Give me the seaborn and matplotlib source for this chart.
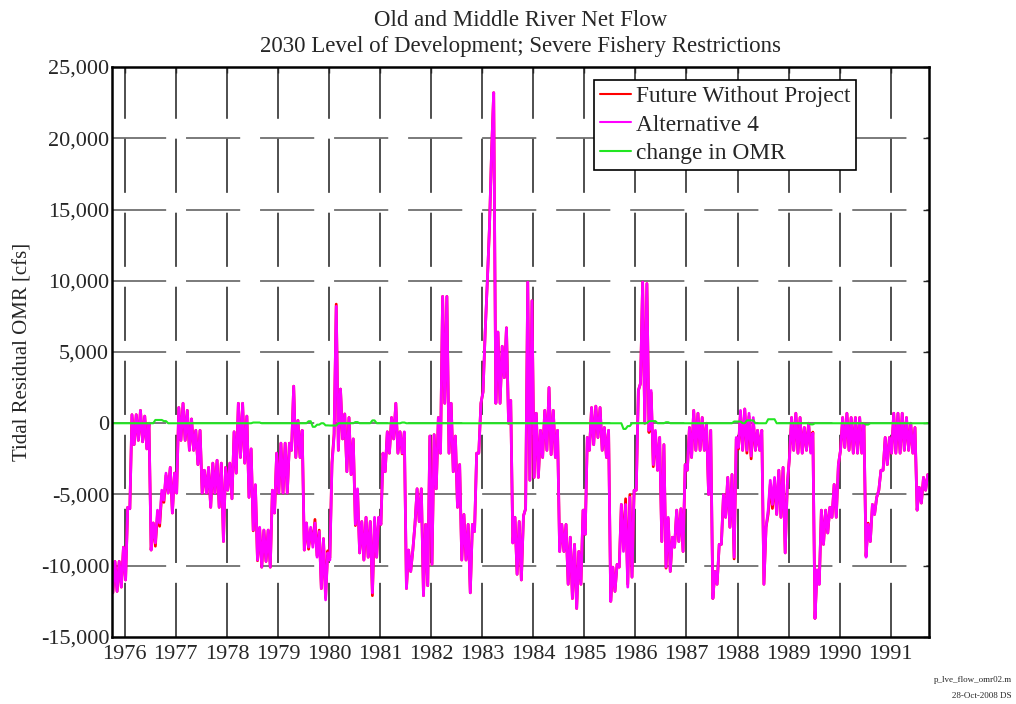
import numpy as np
import pandas as pd
import seaborn as sns
import matplotlib
matplotlib.use("Agg")
import matplotlib.pyplot as plt
from matplotlib.ticker import FuncFormatter, MultipleLocator

# Monthly envelope of the tidally filtered OMR flow (cfs).
# One row per water year, Oct .. Sep, from WY1976 to WY1991.
alt4_low = [
    -11900, -11800, -11500, -11000, -6000, -1500, -1200, -1300, -1800, -8900, -8400, -7000,   # 1976
    -5400, -4900, -6300, -4900, -1200, -1200, -1900, -1900, -2900, -4900, -4900, -5900,        # 1977
    -4900, -5900, -8300, -4700, -5300, -3500, -2400, -2800, -5200, -7500, -9600, -10100,       # 1978
    -9700, -10100, -6300, -4900, -4900, -4900, -1900, -2400, -2400, -8900, -8700, -8700,       # 1979
    -9400, -11600, -12400, -9600, -900, -1900, -1100, -3400, -3600, -7100, -9100, -9600,       # 1980
    -9400, -11900, -9400, -7100, -3400, -2100, -1100, -2100, -2100, -11600, -10400, -7100,     # 1981
    -6900, -12100, -11400, -9900, -4600, -2100, 1400, -2100, -3400, -5900, -9600, -9600,       # 1982
    -11900, -7600, -2100, 2200, 9900, 19000, 1400, 1400, 3200, 0, -8400, -10600,              # 1983
    -11000, -6000, -4000, -3800, -3800, -2400, -1900, -2200, -2400, -9000, -9000, -11300,      # 1984
    -12300, -13000, -11300, -7800, -1900, -1500, -1000, -1900, -2400, -12500, -11800, -10100,  # 1985
    -9000, -11500, -10800, -4700, 2800, 0, -500, -2900, -3300, -8300, -10100, -10400,          # 1986
    -8700, -8300, -9000, -3300, -2400, -1900, -1900, -1900, -5000, -12300, -11300, -8500,      # 1987
    -6600, -7300, -9400, -1700, -1900, -1900, -2300, -1900, -1900, -11300, -6100, -5700,       # 1988
    -6400, -6600, -9100, -2400, -1900, -2100, -2100, -1900, -2100, -13700, -11300, -8500,      # 1989
    -7700, -6600, -6600, -1900, -1700, -1900, -2100, -2100, -2100, -9400, -8300, -6400,        # 1990
    -4700, -3300, -2900, -2100, -2100, -2100, -1900, -1900, -2100, -6100, -5600, -4700,        # 1991
]
alt4_high = [
    -9700, -9700, -8700, -5900, 600, 600, 900, 500, 0, -7000, -6100, -4700,                   # 1976
    -3500, -3100, -3500, 1100, 1400, 900, 300, -500, -500, -3300, -3100, -2800,                # 1977
    -2600, -2800, -3100, -2800, -600, 1400, 1400, 500, -1800, -4300, -7300, -7500,             # 1978
    -7500, -4700, -2100, -1400, -1400, -1400, 2600, 200, -500, -7000, -7300, -7000,            # 1979
    -7600, -8100, -9100, -2900, 8200, 2400, 650, 400, -1100, -4600, -6900, -6600,              # 1980
    -6900, -6600, -6600, -2100, -600, 400, 1400, -600, -600, -8900, -8900, -4600,              # 1981
    -4600, -7100, -900, -800, 400, 8900, 8900, 1400, -900, -2900, -6400, -7100,                # 1982
    -7100, -2100, 1400, 6400, 13700, 23200, 6400, 5400, 6700, 1600, -6600, -6900,              # 1983
    -6500, 9900, 8600, 700, -500, 900, 2500, 900, -500, -7100, -7100, -8000,                   # 1984
    -8500, -9000, -6100, -1000, 1100, 1200, 1100, -300, -500, -10100, -9900, -5700,            # 1985
    -5700, -5200, -4700, 2300, 9900, 9800, 2300, -500, -1000, -1500, -6600, -8000,             # 1986
    -6100, -6000, -2900, -300, 900, 700, 400, 0, -500, -10400, -8500, -5000,                   # 1987
    -3800, -3600, -1000, 900, 1000, 700, 400, -500, -500, -7300, -4000, -3800,                 # 1988
    -3300, -3100, -4300, 400, 700, 400, -300, 0, -700, -10300, -6100, -6100,                   # 1989
    -5900, -4300, -2900, 400, 700, 400, 400, 400, 0, -7100, -5700, -5200,                      # 1990
    -3300, -1000, -1000, 700, 700, 700, 400, 0, -300, -4500, -3800, -3600,                     # 1991
]
# Alternative 4 minus Future Without Project (cfs), monthly
omr_change = [
    0, 0, 0, 0, 0, 0, 0, 0, 0, 0, 230, 230,          # 1976
    150, 0, 0, 0, 0, 0, 0, 0, 0, 0, 0, 0,            # 1977
    0, 0, 0, 0, 0, 0, 0, 0, 0, 50, 50, 0,            # 1978
    0, 0, 0, 0, 0, 0, 0, 0, 0, 0, 140, -250,         # 1979
    -100, 0, -150, -160, -160, 0, 0, 0, 0, 80, 0, 0,  # 1980
    0, 200, 0, 0, 0, 0, 0, 0, 50, 0, 0, 0,           # 1981
    0, 0, 0, 0, 0, 0, 0, 0, 0, 0, 0, 0,              # 1982
    0, 0, 0, 0, 0, 0, 0, 0, 0, 0, 0, 0,              # 1983
    0, 0, 0, 0, 0, 0, 0, 0, 0, 0, 0, 0,              # 1984
    0, 0, 0, 0, 0, 0, 0, 0, 0, 0, 0, 0,              # 1985
    -400, -200, 0, 0, 0, 0, 150, 150, 0, 0, 70, 0,   # 1986
    0, 0, 0, 0, 0, 0, 0, 0, 0, 0, 0, 0,              # 1987
    0, 0, 120, 120, 0, 200, 200, 0, 0, 0, 280, 280,  # 1988
    0, 0, 0, 0, 0, 0, 0, 0, -80, 0, 0, 0,            # 1989
    0, 0, 0, 0, 0, 0, 0, 0, 0, -90, 0, 0,            # 1990
    0, 0, 0, 0, 0, 0, 0, 0, 0, 0, 0, 0,              # 1991
]
year_ticks = list(range(1976, 1992))

# Build the time axis (decimal years), low and high point inside each month
t0 = 1975.75 + np.arange(len(alt4_low)) / 12
x = np.column_stack([t0 + 0.2 / 12, t0 + 0.7 / 12]).ravel()
alt4 = np.column_stack([alt4_low, alt4_high]).ravel()
chg = np.repeat(omr_change, 2)
df = pd.DataFrame({
    "year": x,
    "Future Without Project": alt4 - chg,
    "Alternative 4": alt4,
    "change in OMR": chg,
})

sns.set_style("white")
plt.rcParams["font.family"] = ["Liberation Serif", "DejaVu Serif"]

fig = plt.figure(figsize=(10.16, 7.04), dpi=100)
ax = fig.add_axes([0.1102, 0.0952, 0.8042, 0.8096])

colors = {"Future Without Project": "#ff0000", "Alternative 4": "#ff00ff", "change in OMR": "#22e622"}
widths = {"Future Without Project": 2.0, "Alternative 4": 2.0, "change in OMR": 1.5}
for name in ["Future Without Project", "Alternative 4", "change in OMR"]:
    sns.lineplot(data=df, x="year", y=name, color=colors[name], lw=widths[name],
                 estimator=None, sort=False, ax=ax, label=name)

ax.set_xlim(1975.75, 1991.75)
ax.set_ylim(-15000, 25000)
ax.set_xticks(year_ticks)
ax.set_xticklabels([str(y) for y in year_ticks])
ax.yaxis.set_major_locator(MultipleLocator(5000))
ax.yaxis.set_major_formatter(FuncFormatter(lambda v, p: f"{v:,.0f}"))
ax.tick_params(axis="both", labelsize=16, direction="in", length=4, width=1,
               top=True, right=True, pad=2)
ax.tick_params(axis="x", pad=6)

# dashed grid
ax.grid(False)
for yv in range(-10000, 25000, 5000):
    ax.axhline(yv, color="#707070", lw=1.3, ls=(0, (30, 11)), zorder=0)
for xv in year_ticks:
    ax.axvline(xv, color="#404040", lw=1.3, ls=(0, (30, 11)), zorder=0)

for s in ax.spines.values():
    s.set_color("black")
    s.set_linewidth(1.8)

ax.set_xlabel("")
ax.set_ylabel("Tidal Residual OMR [cfs]", fontsize=15, labelpad=6)
ax.set_title("Old and Middle River Net Flow\n2030 Level of Development; Severe Fishery Restrictions",
             fontsize=16.5, pad=11, linespacing=1.3)

leg = ax.legend(loc="upper left", bbox_to_anchor=(0.59, 0.977), fontsize=16.8, frameon=True,
                fancybox=False, framealpha=1, edgecolor="black", handlelength=1.35,
                handletextpad=0.2, borderpad=0.25, labelspacing=0.3, borderaxespad=0)
leg.get_frame().set_linewidth(1.2)
for line in leg.get_lines():
    line.set_linewidth(1.5)

fig.text(0.996, 0.034, "p_lve_flow_omr02.m", ha="right", va="center", fontsize=6.5)
fig.text(0.996, 0.012, "28-Oct-2008 DS", ha="right", va="center", fontsize=6.5)

fig.savefig("out.png", dpi=100)
